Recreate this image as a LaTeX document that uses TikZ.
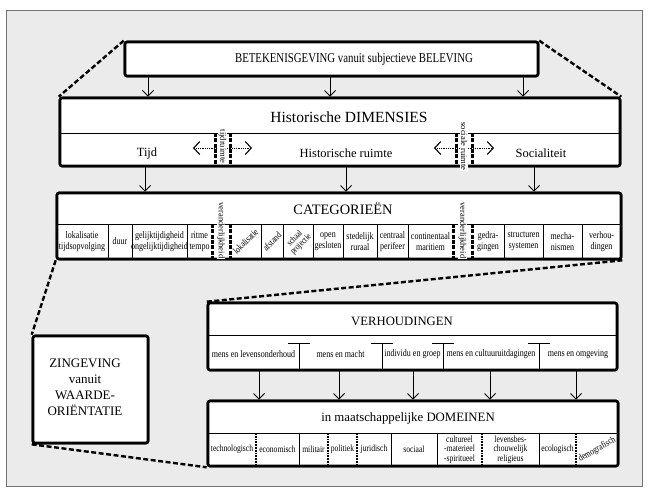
\documentclass[tikz,border=0pt]{standalone}
\usepackage{fontspec}
\setmainfont{Liberation Serif}
\newfontfamily\condfont[FakeStretch=0.8]{Liberation Serif}
\usetikzlibrary{arrows.meta}

\tikzset{
  frame/.style={draw=black!55, fill=black!8, line width=0.8pt},
  bigbox/.style={draw, line width=2.6pt, rounded corners=2pt, fill=white, inner sep=0pt},
  conn/.style={line width=0.8pt, -{Straight Barb[length=5.5pt,width=11pt,line width=1pt]}},
  wedge/.style={line width=2.4pt, dash pattern=on 5pt off 2.5pt},
  sepline/.style={line width=0.8pt},
  cellline/.style={line width=0.8pt},
  dcell/.style={line width=1.3pt, dash pattern=on 1.8pt off 1pt},
  bar/.style={line width=3pt, dash pattern=on 4pt off 1.3pt},
  spanarrow/.style={line width=0.8pt, densely dotted,
    {Straight Barb[length=6pt,width=13pt,line width=1.1pt]}-{Straight Barb[length=6pt,width=13pt,line width=1.1pt]}},
  ttl/.style={inner sep=0pt},
  lab/.style={font=\fontsize{12.5}{14}\selectfont, inner sep=0pt},
  cell/.style={font=\condfont\fontsize{10}{11}\selectfont, align=center, inner sep=0pt},
  vtext/.style={font=\fontsize{8.5}{8.5}\selectfont, rotate=-90, inner sep=0.6pt, fill=white},
}

\begin{document}
\begin{tikzpicture}[x=1pt,y=-1pt]
\useasboundingbox (0,0) rectangle (648,491);
\fill[white] (0,0) rectangle (648,491);
\draw[frame] (6,10) rectangle (642,486);

% box outlines (placed first so the dashed wedges can refer to them)
\path
  node[bigbox, minimum width=413pt, minimum height=34pt] (top)  at (331.5,59)  {}
  node[bigbox, minimum width=560pt, minimum height=68pt] (dims) at (340,132)   {}
  node[bigbox, minimum width=564pt, minimum height=66pt] (cat)  at (339,226)   {}
  node[bigbox, minimum width=409pt, minimum height=67pt] (verh) at (412.5,336.5) {}
  node[bigbox, minimum width=410pt, minimum height=65pt] (dom)  at (413,433.5) {}
  node[bigbox, minimum width=115pt, minimum height=107pt] (zin) at (90.5,389.5) {};

% dashed wedges between the levels
\draw[wedge] (top.north west) -- (dims.north west);
\draw[wedge] (top.north east) -- (dims.north east);
\draw[wedge] (cat.south west) -- (zin.north west);
\draw[wedge] (zin.south west) -- (dom.south west);
\draw[wedge] (cat.south east) -- (verh.north west);

% redraw the boxes on top of the wedges
\path
  node[bigbox, minimum width=413pt, minimum height=34pt] at (331.5,59)  {}
  node[bigbox, minimum width=560pt, minimum height=68pt] at (340,132)   {}
  node[bigbox, minimum width=564pt, minimum height=66pt] at (339,226)   {}
  node[bigbox, minimum width=409pt, minimum height=67pt] at (412.5,336.5) {}
  node[bigbox, minimum width=410pt, minimum height=65pt] at (413,433.5) {}
  node[bigbox, minimum width=115pt, minimum height=107pt] at (90.5,389.5) {};

% ---- top box
\node[ttl, font=\condfont\fontsize{13.5}{15}\selectfont] (topT) at (354,59)
  {BETEKENISGEVING vanuit subjectieve BELEVING};

% ---- dimensions
\coordinate (s1) at (0,133);
\draw[sepline] (dims.west |- s1) -- (dims.east |- s1);
\node[ttl, font=\fontsize{15.5}{17}\selectfont] (dimsT) at (349,117) {Historische DIMENSIES};
\node[lab] (tijd) at (147,153) {Tijd};
\node[lab] (ruimte) at (346,153) {Historische ruimte};
\node[lab] (soc) at (541,153) {Socialiteit};

\coordinate (p1) at (193,148); \coordinate (p2) at (252,148);
\coordinate (p3) at (434,148); \coordinate (p4) at (494,148);
\draw[spanarrow] (p1) -- (p2);
\draw[spanarrow] (p3) -- (p4);
\node[vtext] (tr1) at (222.5,146.5) {tijdruimte};
\node[vtext] (tr2) at (464,146.5) {sociale ruimte};
\foreach \x in {215,230,456,472} \draw[bar] (\x,133) -- (\x,166);

% ---- categories
\coordinate (s2) at (0,224);
\draw[sepline] (cat.west |- s2) -- (cat.east |- s2);
\node[ttl, font=\fontsize{14.4}{16}\selectfont] (catT) at (343,209) {CATEGORIEËN};
\foreach \x in {108,132,187,261,283,313,343,377,408,504,543,582}
  \draw[cellline] (\x,224) -- (\x,259);
\node[vtext] (cat5) at (221,230.5) {veranderlijkheid};
\node[vtext] (cat13) at (462.5,230.5) {veranderlijkheid};
\foreach \x in {212,230,453,472} \draw[bar] (\x,224) -- (\x,259);
\foreach \i/\x/\t in {
  1/82/{lokalisatie\\tijdsopvolging},
  2/120/duur,
  3/159.5/{gelijktijdigheid\\ongelijktijdigheid},
  4/199.5/{ritme\\tempo},
  9/328/{open\\gesloten},
  10/360/{stedelijk\\ruraal},
  11/392.5/{centraal\\perifeer},
  12/430.5/{continentaal\\maritiem},
  14/488/{gedra-\\gingen},
  15/523.5/{structuren\\systemen},
  16/562.5/{mecha-\\nismen},
  17/601.5/{verhou-\\dingen}}
  \node[cell] (cat\i) at (\x,241.5) {\t};
\node[cell, rotate=45, font=\condfont\fontsize{9.5}{10}\selectfont] (cat6) at (245.5,241.5) {lokalisatie};
\node[cell, rotate=45, font=\condfont\fontsize{9.5}{10}\selectfont] (cat7) at (272,241.5) {afstand};
\node[cell, rotate=45, font=\condfont\fontsize{9}{8.5}\selectfont] (cat8) at (298,241.5) {schaal\\projectie};

% ---- verhoudingen
\coordinate (s3) at (0,335);
\draw[sepline] (verh.west |- s3) -- (verh.east |- s3);
\node[ttl, font=\fontsize{12.7}{14}\selectfont] (verhT) at (402,321) {VERHOUDINGEN};
\foreach \x in {299,382,443,539} {
  \draw[cellline] (\x,343) -- (\x,370);
  \draw[cellline] (\x-11,343) -- (\x+11,343);
}
\foreach \i/\x/\t in {1/253.5/mens en levensonderhoud, 2/340.5/mens en macht,
  3/412.5/individu en groep, 4/491/mens en cultuuruitdagingen, 5/578/mens en omgeving}
  \node[cell] (v\i) at (\x,354) {\t};

% ---- domeinen
\coordinate (s4) at (0,433);
\draw[sepline] (dom.west |- s4) -- (dom.east |- s4);
\node[ttl, font=\fontsize{12.8}{14}\selectfont] (domT) at (408,418) {in maatschappelijke DOMEINEN};
\foreach \x/\s in {256/dcell, 299/cellline, 328/dcell, 357/dcell, 391/cellline,
  437/cellline, 482/dcell, 539/cellline, 576/dcell}
  \draw[\s] (\x,433) -- (\x,466);
\foreach \i/\x/\t in {1/232/technologisch, 2/277.5/economisch, 3/313.5/militair,
  4/342.5/politiek, 5/374/juridisch, 6/414/sociaal,
  7/459.5/{cultureel\\-materieel\\-spiritueel},
  8/510.5/{levensbes-\\chouwelijk\\religieus},
  9/557.5/ecologisch}
  \node[cell, font=\condfont\fontsize{9.5}{9.5}\selectfont] (d\i) at (\x,449.5) {\t};
\node[cell, rotate=30, font=\condfont\fontsize{9.5}{10}\selectfont] (d10) at (597,449.5) {demografisch};

% ---- zingeving
\node[align=center, inner sep=0pt, font=\fontsize{13}{16}\selectfont] (zinT) at (85,387)
  {ZINGEVING\\vanuit\\WAARDE-\\ORIËNTATIE};

% ---- arrows
\foreach \n/\x in {1/148, 2/330, 3/523} {
  \coordinate (a\n) at (\x,0);
  \draw[conn] (top.south -| a\n) -- (dims.north -| a\n);
}
\foreach \n/\x in {1/145, 2/346, 3/534} {
  \coordinate (b\n) at (\x,0);
  \draw[conn] (dims.south -| b\n) -- (cat.north -| b\n);
}
\foreach \n/\x in {1/259, 2/339, 3/413, 4/490, 5/576} {
  \coordinate (c\n) at (\x,0);
  \draw[conn] (verh.south -| c\n) -- (dom.north -| c\n);
}
\end{tikzpicture}
\end{document}
